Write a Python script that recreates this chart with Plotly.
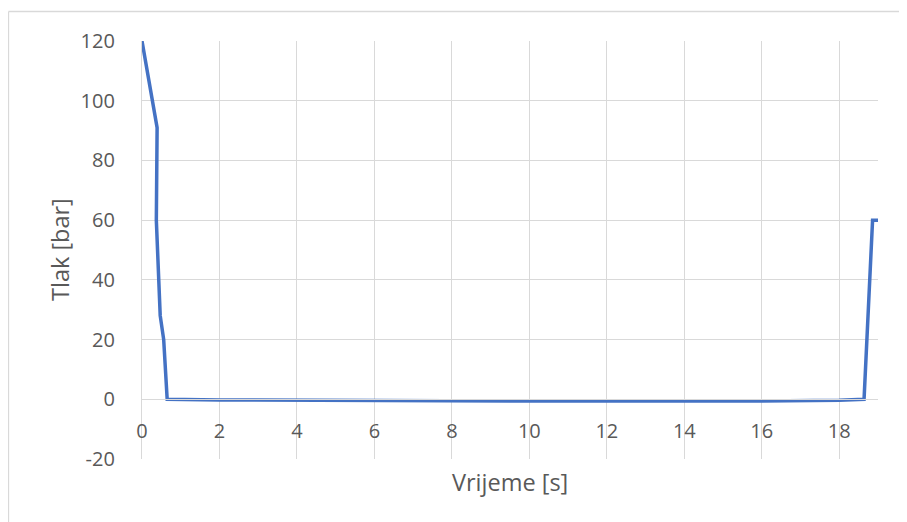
import plotly.graph_objects as go

# Data
time_s = [0, 0.39, 0.37, 0.47, 0.56, 0.65, 2, 4, 6, 8, 9, 10, 12, 14, 16, 18, 18.64, 18.86, 19]
pressure_bar = [120, 91, 60, 28, 20, 0, -0.2, -0.3, -0.6, -0.7, -0.7, -0.6, -0.6, -0.6, -0.6, -0.3, 0, 60, 60]

x_ticks = [0, 2, 4, 6, 8, 10, 12, 14, 16, 18]
y_ticks = [-20, 0, 20, 40, 60, 80, 100, 120]

x_title = "Vrijeme [s]"
y_title = "Tlak [bar]"

OFF = 8  # page body margin
W, H = 907 - OFF, 522 - OFF
ML, MR, MT, MB = 142 - OFF, 29, 41 - OFF, 63
plot_w = W - ML - MR
plot_h = H - MT - MB

FONT = "Open Sans"
TXT = "#595959"
GRID = "#d9d9d9"
TICK_SIZE = 20
TITLE_SIZE = 23.5

fig = go.Figure()
fig.add_trace(go.Scatter(
    x=time_s, y=pressure_bar, mode="lines",
    line=dict(color="#4472C4", width=3.5),
    hoverinfo="skip", showlegend=False,
))

ymin, ymax = -20, 120
zero_pos = (0 - ymin) / (ymax - ymin)

def px_to_paper_y(py):
    # py is a pixel row in the final screenshot
    return (MT + OFF + plot_h - py) / plot_h

def px_to_paper_x(px):
    return (px - (ML + OFF)) / plot_w

fig.update_layout(
    width=W, height=H,
    margin=dict(l=ML, r=MR, t=MT, b=MB),
    paper_bgcolor="white", plot_bgcolor="white",
    font=dict(family=FONT, size=TICK_SIZE, color=TXT),
    xaxis=dict(
        range=[0, 19], tickvals=x_ticks, ticktext=[str(v) for v in x_ticks],
        showgrid=True, gridcolor=GRID, gridwidth=1.3,
        zeroline=False, showline=True, linecolor=GRID, linewidth=1.3,
        anchor="free", position=zero_pos,
        ticks="", ticklabelstandoff=14,
        tickfont=dict(family=FONT, size=TICK_SIZE, color=TXT),
    ),
    yaxis=dict(
        range=[ymin, ymax], tickvals=y_ticks, ticktext=[str(v) for v in y_ticks],
        showgrid=True, gridcolor=GRID, gridwidth=1.3,
        zeroline=False, showline=True, linecolor=GRID, linewidth=1.3,
        ticks="", ticklabelstandoff=22,
        tickfont=dict(family=FONT, size=TICK_SIZE, color=TXT),
    ),
    annotations=[
        dict(text=x_title, xref="paper", yref="paper", x=0.5,
             y=px_to_paper_y(482), xanchor="center", yanchor="middle",
             showarrow=False, font=dict(family=FONT, size=TITLE_SIZE, color=TXT)),
        dict(text=y_title, xref="paper", yref="paper",
             x=px_to_paper_x(60), y=0.5, xanchor="center", yanchor="middle",
             textangle=-90, showarrow=False,
             font=dict(family=FONT, size=TITLE_SIZE, color=TXT)),
    ],
    shapes=[
        dict(type="line", xref="paper", yref="paper",
             x0=px_to_paper_x(8.5), x1=px_to_paper_x(920),
             y0=px_to_paper_y(11.5), y1=px_to_paper_y(11.5),
             line=dict(color=GRID, width=1.3)),
        dict(type="line", xref="paper", yref="paper",
             x0=px_to_paper_x(8.5), x1=px_to_paper_x(8.5),
             y0=px_to_paper_y(11.5), y1=px_to_paper_y(540),
             line=dict(color=GRID, width=1.3)),
    ],
)

fig.write_html("out.html")
